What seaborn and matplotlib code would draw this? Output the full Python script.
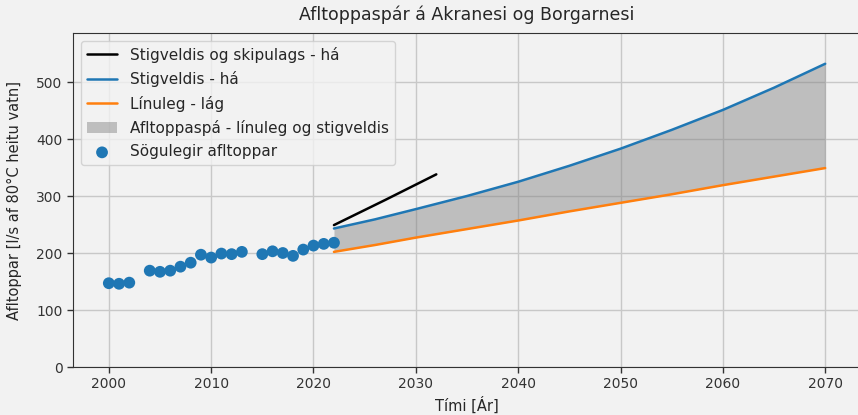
import matplotlib
matplotlib.use("Agg")
import matplotlib.pyplot as plt
import seaborn as sns
import pandas as pd

# Sögulegir afltoppar (lesið af mynd)
hist_years = [2000, 2001, 2002, 2004, 2005, 2006, 2007, 2008, 2009, 2010,
              2011, 2012, 2013, 2015, 2016, 2017, 2018, 2019, 2020, 2021, 2022]
hist_values = [147, 146, 148, 169, 167, 169, 176, 183, 197, 192,
               199, 198, 202, 198, 203, 200, 195, 206, 213, 216, 218]

# Spár
spa_years = [2022, 2026, 2030, 2035, 2040, 2045, 2050, 2055, 2060, 2065, 2070]
stigveldis_ha = [243, 259, 277, 300, 325, 353, 383, 416, 451, 490, 532]
linuleg_lag = [202, 214, 227, 242, 257, 273, 288, 303, 319, 334, 349]

skip_years = [2022, 2027, 2032]
skip_ha = [249, 293, 338]

x_ticks = [2000, 2010, 2020, 2030, 2040, 2050, 2060, 2070]
y_ticks = [0, 100, 200, 300, 400, 500]

hist_df = pd.DataFrame({"ar": hist_years, "afl": hist_values})
spa_df = pd.DataFrame({"ar": spa_years, "ha": stigveldis_ha, "lag": linuleg_lag})
skip_df = pd.DataFrame({"ar": skip_years, "afl": skip_ha})

bg = "#f2f2f2"
sns.set_style("whitegrid", rc={
    "axes.facecolor": bg,
    "figure.facecolor": bg,
    "grid.color": "#c8c8c8",
    "axes.edgecolor": "#333333",
    "xtick.bottom": True,
    "ytick.left": True,
})
plt.rcParams["font.family"] = ["DejaVu Sans"]

fig = plt.figure(figsize=(8.58, 4.15), dpi=100)
ax = fig.add_axes([73 / 858, 48 / 415, 788 / 858, 334 / 415])

sns.lineplot(data=skip_df, x="ar", y="afl", color="black", linewidth=1.8,
             label="Stigveldis og skipulags - há", ax=ax)
sns.lineplot(data=spa_df, x="ar", y="ha", color="#1f77b4", linewidth=1.8,
             label="Stigveldis - há", ax=ax)
sns.lineplot(data=spa_df, x="ar", y="lag", color="#ff7f0e", linewidth=1.8,
             label="Línuleg - lág", ax=ax)
ax.fill_between(spa_df["ar"], spa_df["lag"], spa_df["ha"], color="gray",
                alpha=0.45, linewidth=0, label="Afltoppaspá - línuleg og stigveldis")
sns.scatterplot(data=hist_df, x="ar", y="afl", color="#1f77b4", s=72,
                edgecolor="none", label="Sögulegir afltoppar", ax=ax, zorder=3)

ax.set_xlim(1996.5, 2073.5)
ax.set_ylim(0, 586)
ax.set_xticks(x_ticks)
ax.set_yticks(y_ticks)
ax.tick_params(labelsize=10, length=4, width=1, direction="out", colors="#333333")
ax.set_xlabel("Tími [Ár]", fontsize=10.5)
ax.set_ylabel("Afltoppar [l/s af 80°C heitu vatn]", fontsize=10.5, labelpad=10)
ax.set_title("Afltoppaspár á Akranesi og Borgarnesi", fontsize=12.5, pad=9)
ax.grid(True, linewidth=1)

ax.legend(loc="upper left", fontsize=11, facecolor=bg, framealpha=0.8,
          labelspacing=0.55)

fig.savefig("out.png", dpi=100, facecolor=bg)
